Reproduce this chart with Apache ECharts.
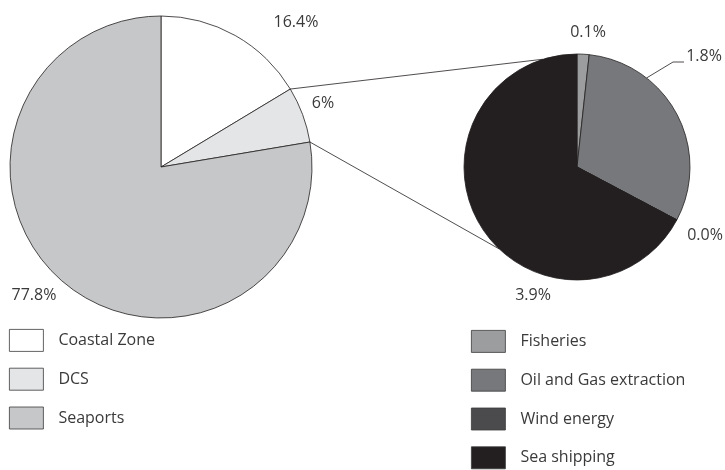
<!DOCTYPE html>
<html>
<head>
<meta charset="utf-8">
<style>
  html, body { margin: 0; padding: 0; background: #fff; }
  #chart { width: 725px; height: 470px; }
</style>
<script src="https://cdn.jsdelivr.net/npm/echarts@6/dist/echarts.min.js"></script>
</head>
<body>
<div id="chart"></div>
<script>
// main pie (share of total, %)
var mainNames = ['Coastal Zone', 'DCS', 'Seaports'];
var mainValues = [16.4, 6, 77.8];
var mainColors = ['#ffffff', '#e4e5e6', '#c6c7c8'];

// breakdown of DCS (share of total, %)
var subNames = ['Fisheries', 'Oil and Gas extraction', 'Wind energy', 'Sea shipping'];
var subValues = [0.1, 1.8, 0.0, 3.9];
var subColors = ['#9c9d9f', '#77787b', '#4b4b4d', '#231f20'];

var textColor = '#3a3a3a';
var edge = '#231f20';

// layout
var mainCenter = [161, 167], mainR = 151;
var subCenter = [577, 167], subR = 113;
var mainLabelPos = [[296, 22], [323, 103], [34, 295]];
var subLabelPos = [[588, 32], [704, 56], [705, 235], [533, 295]];

var chart = echarts.init(document.getElementById('chart'));

// point on a circle, angle in degrees clockwise from 12 o'clock
function onCircle(c, r, deg) {
  var a = deg * Math.PI / 180;
  return [c[0] + r * Math.sin(a), c[1] - r * Math.cos(a)];
}

var total = mainValues.reduce(function (s, v) { return s + v; }, 0);
var dcsStart = mainValues[0];
var a1 = dcsStart / total * 360;
var a2 = (dcsStart + mainValues[1]) / total * 360;
var p1 = onCircle(mainCenter, mainR, a1);
var p2 = onCircle(mainCenter, mainR, a2);
var q1 = onCircle(subCenter, subR, 342.5);
var q2 = onCircle(subCenter, subR, 223.5);

function legendCfg(names, left, top) {
  return {
    data: names,
    orient: 'vertical',
    left: left,
    top: top,
    height: 200,
    itemWidth: 34,
    itemHeight: 22,
    itemGap: 16,
    icon: 'rect',
    itemStyle: { borderColor: '#3a3a3a', borderWidth: 0.8 },
    textStyle: { fontSize: 16, color: textColor, lineHeight: 16, padding: [6, 0, 0, 10] },
    selectedMode: false
  };
}

var option = {
  animation: false,
  backgroundColor: '#fff',
  textStyle: { fontFamily: 'Open Sans', color: textColor },
  legend: [legendCfg(mainNames, 4, 324), legendCfg(subNames, 466, 325)],
  graphic: [{
    type: 'line',
    shape: { x1: p1[0], y1: p1[1], x2: q1[0], y2: q1[1] },
    style: { stroke: edge, lineWidth: 0.8 },
    z: 10
  }, {
    type: 'line',
    shape: { x1: p2[0], y1: p2[1], x2: q2[0], y2: q2[1] },
    style: { stroke: edge, lineWidth: 0.8 },
    z: 10
  }],
  series: [{
    type: 'pie',
    center: mainCenter,
    radius: mainR,
    startAngle: 90,
    clockwise: true,
    avoidLabelOverlap: false,
    data: mainNames.map(function (n, k) {
      return { name: n, value: mainValues[k], itemStyle: { color: mainColors[k] } };
    }),
    itemStyle: { borderColor: edge, borderWidth: 0.8 },
    label: {
      show: true,
      position: 'outside',
      fontSize: 16,
      color: textColor,
      fontFamily: 'Open Sans',
      formatter: function (p) { return p.value + '%'; }
    },
    labelLine: { show: false },
    labelLayout: function (p) {
      var pos = mainLabelPos[p.dataIndex];
      return { x: pos[0], y: pos[1], align: 'center', verticalAlign: 'middle' };
    },
    emphasis: { disabled: true }
  }, {
    type: 'pie',
    center: subCenter,
    radius: subR,
    startAngle: 90,
    clockwise: true,
    avoidLabelOverlap: false,
    data: subNames.map(function (n, k) {
      var d = { name: n, value: subValues[k], itemStyle: { color: subColors[k] } };
      if (k === 1) d.labelLine = { show: true };
      return d;
    }),
    itemStyle: { borderColor: edge, borderWidth: 0.8 },
    label: {
      show: true,
      position: 'outside',
      fontSize: 16,
      color: textColor,
      fontFamily: 'Open Sans',
      formatter: function (p) { return p.value.toFixed(1) + '%'; }
    },
    labelLine: { show: false, lineStyle: { color: edge, width: 0.8 } },
    labelLayout: function (p) {
      var pos = subLabelPos[p.dataIndex];
      var r = { x: pos[0], y: pos[1], align: 'center', verticalAlign: 'middle' };
      if (p.dataIndex === 1) {
        var s = onCircle(subCenter, subR, 38);
        r.labelLinePoints = [s, [673, 62], [684, 62]];
      }
      return r;
    },
    emphasis: { disabled: true }
  }]
};

chart.setOption(option);
</script>
</body>
</html>
